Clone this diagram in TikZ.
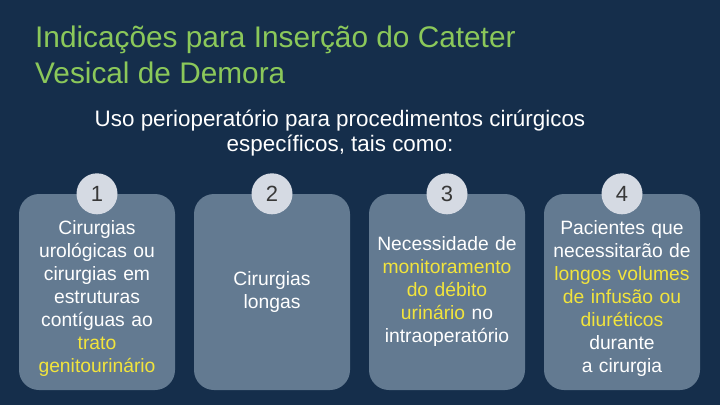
\documentclass[tikz,border=0pt]{standalone}
\usepackage{fontspec}
\setmainfont{Liberation Sans}
\definecolor{bgnavy}{HTML}{152E4B}
\definecolor{cardgray}{HTML}{637A91}
\definecolor{badgegray}{HTML}{D5DAE3}
\definecolor{titlegreen}{HTML}{8BC85A}
\definecolor{hiyellow}{HTML}{F2E43C}
\newcommand{\hi}[1]{\textcolor{hiyellow}{#1}}
\begin{document}
\begin{tikzpicture}[x=1pt,y=-1pt,line join=round,
  card/.style={fill=cardgray,rounded corners=20pt,minimum width=156pt,minimum height=196pt,
    text width=152pt,align=center,text=white,inner sep=0pt,font=\fontsize{19.3}{23}\selectfont},
  fullcard/.style={card,text height=26pt},
  badge/.style={circle,fill=badgegray,minimum size=41pt,inner sep=0pt,text=black!78,
    font=\fontsize{22}{22}\selectfont}]
\fill[bgnavy](0,0) rectangle (720,405);
\useasboundingbox (0,0) rectangle (720,405);

\node[anchor=base west,align=left,inner sep=0pt,text=titlegreen,font=\fontsize{29.8}{36}\selectfont] (title) at (35,83)
  {Indicações para Inserção do Cateter\\Vesical de Demora};
\node[anchor=base,align=center,inner sep=0pt,text=white,font=\fontsize{22.4}{25}\selectfont] (sub) at (340,151)
  {Uso perioperatório para procedimentos cirúrgicos\\específicos, tais como:};

\node[fullcard] (card1) at (97,292) {Cirurgias\\urológicas ou\\cirurgias em\\estruturas\\contíguas ao\\\hi{trato}\\\hi{genitourinário}};
\node[card] (card2) at (272,292) {Cirurgias\\longas};
\node[card] (card3) at (447,292) {Necessidade de\\\hi{monitoramento}\\\hi{do débito}\\\hi{urinário} no\\intraoperatório};
\node[fullcard] (card4) at (622,292) {Pacientes que\\necessitarão de\\\hi{longos volumes}\\\hi{de infusão ou}\\\hi{diuréticos}\\durante\\a cirurgia};

\node[badge] (num1) at (card1.north) {1};
\node[badge] (num2) at (card2.north) {2};
\node[badge] (num3) at (card3.north) {3};
\node[badge] (num4) at (card4.north) {4};
\end{tikzpicture}
\end{document}
